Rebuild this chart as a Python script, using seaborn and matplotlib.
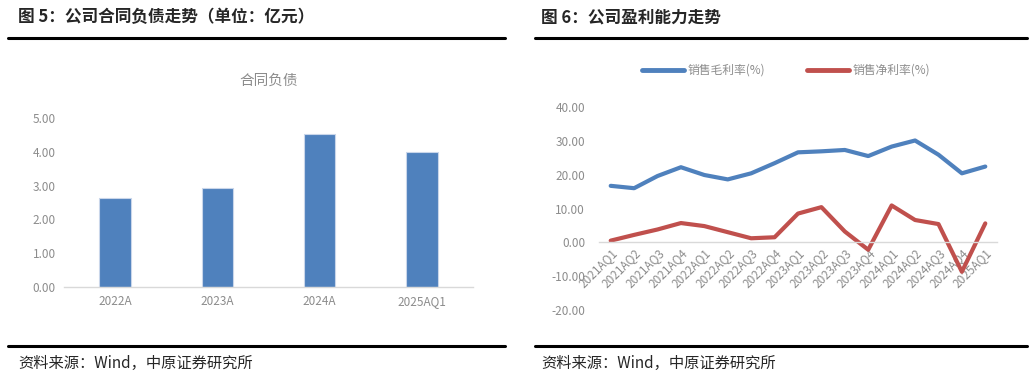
import numpy as np
import pandas as pd
import matplotlib
matplotlib.use('Agg')
import matplotlib.pyplot as plt
from matplotlib.lines import Line2D
import seaborn as sns

# data
bar_cats = ['2022A', '2023A', '2024A', '2025AQ1']
contract_liab = [2.64, 2.93, 4.53, 4.00]

quarters = ['2021AQ1', '2021AQ2', '2021AQ3', '2021AQ4',
            '2022AQ1', '2022AQ2', '2022AQ3', '2022AQ4',
            '2023AQ1', '2023AQ2', '2023AQ3', '2023AQ4',
            '2024AQ1', '2024AQ2', '2024AQ3', '2024AQ4', '2025AQ1']
gross_margin = [16.7, 16.0, 19.6, 22.2, 19.9, 18.6, 20.4, 23.4, 26.6,
                26.9, 27.3, 25.5, 28.3, 30.1, 25.9, 20.4, 22.4]
net_margin = [0.5, 2.2, 3.8, 5.7, 4.8, 3.0, 1.2, 1.5, 8.5,
              10.4, 3.2, -2.2, 10.9, 6.6, 5.4, -8.7, 5.6]

sns.set_theme(style='white')
plt.rcParams['font.family'] = ['Noto Sans CJK SC', 'DejaVu Sans']

BLUE = '#4F81BD'
RED = '#C0504D'
GREY = '#8C8C8C'

W, H = 1034, 378
fig = plt.figure(figsize=(W / 100, H / 100), dpi=100)


def px_axes(x0, x1, ytop, ybot):
    return fig.add_axes([x0 / W, 1 - ybot / H, (x1 - x0) / W, (ybot - ytop) / H])


# headers / footers
fig.text(18 / W, 1 - 17 / H, '图 5：公司合同负债走势（单位：亿元）', fontsize=12,
         fontweight='bold', va='center', ha='left')
fig.text(541 / W, 1 - 17 / H, '图 6：公司盈利能力走势', fontsize=12,
         fontweight='bold', va='center', ha='left')
for x0, x1 in [(8, 505), (535, 1027)]:
    for yy in (38, 346):
        fig.add_artist(Line2D([x0 / W, x1 / W], [1 - yy / H, 1 - yy / H],
                              color='black', lw=2.2, transform=fig.transFigure))
fig.text(18 / W, 1 - 363 / H, '资料来源：Wind，中原证券研究所', fontsize=11,
         va='center', ha='left')
fig.text(541 / W, 1 - 363 / H, '资料来源：Wind，中原证券研究所', fontsize=11,
         va='center', ha='left')

# left: bar chart
ax1 = px_axes(64, 473, 118, 287)
df_bar = pd.DataFrame({'cat': bar_cats, 'val': contract_liab})
sns.barplot(data=df_bar, x='cat', y='val', color=BLUE, saturation=1,
            width=0.31, edgecolor='#C9D6EA', linewidth=0.8, ax=ax1)
ax1.set_xlim(-0.5, 3.5)
ax1.set_ylim(0, 5)
ax1.set_yticks(np.arange(0, 5.01, 1))
ax1.set_yticklabels([f'{v:.2f}' for v in np.arange(0, 5.01, 1)])
ax1.set_xlabel('')
ax1.set_ylabel('')
for s in ['top', 'right', 'left']:
    ax1.spines[s].set_visible(False)
ax1.spines['bottom'].set_color('#D9D9D9')
ax1.spines['bottom'].set_linewidth(1)
ax1.tick_params(axis='both', length=0, labelsize=8.5, colors=GREY, pad=6)
ax1.set_title('合同负债', fontsize=10.5, color=GREY, pad=24)

# right: line chart
ax2 = px_axes(599, 997, 107, 310)
df_line = pd.DataFrame({'x': np.arange(len(quarters)),
                        '销售毛利率(%)': gross_margin,
                        '销售净利率(%)': net_margin})
df_long = df_line.melt(id_vars='x', var_name='series', value_name='val')
sns.lineplot(data=df_long, x='x', y='val', hue='series',
             palette=[BLUE, RED], linewidth=3, ax=ax2)
for s in ['top', 'right', 'left']:
    ax2.spines[s].set_visible(False)
ax2.spines['bottom'].set_position(('data', 0))
ax2.spines['bottom'].set_color('#D9D9D9')
ax2.spines['bottom'].set_linewidth(1)
ax2.set_xlim(-0.5, len(quarters) - 0.5)
ax2.set_ylim(-20, 40)
yt = np.arange(-20, 40.01, 10)
ax2.set_yticks(yt)
ax2.set_yticklabels([f'{v:.2f}' for v in yt])
ax2.set_xticks(np.arange(len(quarters)))
ax2.set_xticklabels(quarters)
ax2.set_xlabel('')
ax2.set_ylabel('')
ax2.tick_params(axis='both', length=0, labelsize=8.5, colors=GREY)
ax2.tick_params(axis='x', pad=3)
ax2.tick_params(axis='y', pad=10)
plt.setp(ax2.get_xticklabels(), rotation=45, ha='right', rotation_mode='anchor')
leg = ax2.legend(loc='center', bbox_to_anchor=(0.47, 1.18), ncol=2, frameon=False,
                 fontsize=8.5, handlelength=3.6, columnspacing=3.5, handletextpad=0.3)
for t in leg.get_texts():
    t.set_color(GREY)
for h in leg.legend_handles:
    h.set_linewidth(3.5)

fig.savefig('out.png', dpi=100)
